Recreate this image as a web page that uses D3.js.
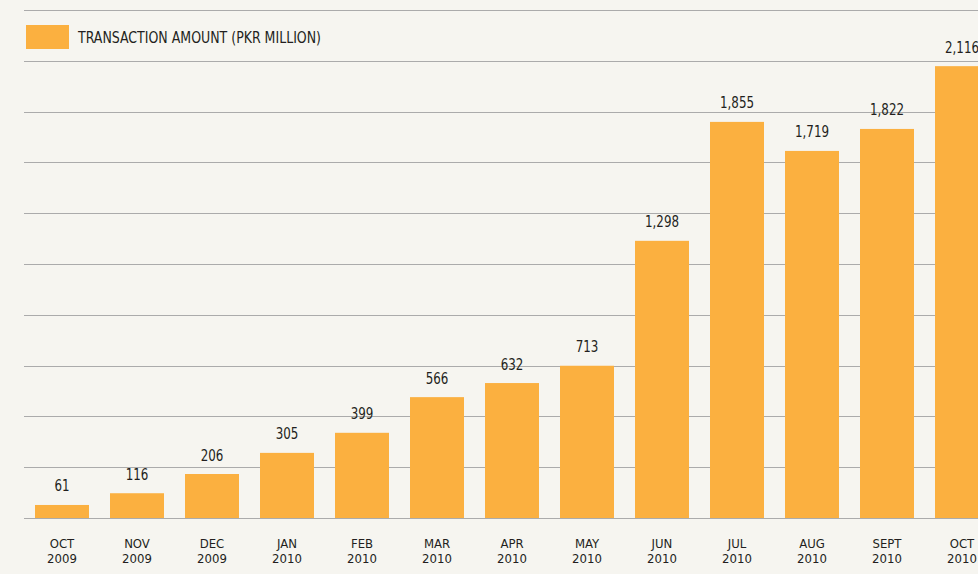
<!DOCTYPE html>
<html>
<head>
<meta charset="utf-8">
<script src="https://cdn.jsdelivr.net/npm/d3@7"></script>
<style>
  html, body { margin: 0; padding: 0; background: #f6f5f0; overflow: hidden; }
  svg { display: block; font-family: "Liberation Sans Narrow", "DejaVu Sans Condensed", "Roboto", sans-serif; }
  .grid line { stroke: #ababab; stroke-width: 1.2; }
  .value { font-size: 15px; fill: #231f20; text-anchor: middle; }
  .month { font-size: 13px; fill: #231f20; text-anchor: middle; }
  .legend { font-size: 15.5px; fill: #231f20; }
</style>
</head>
<body>
<div id="chart"></div>
<script>
(function () {
  const months = ["OCT", "NOV", "DEC", "JAN", "FEB", "MAR", "APR", "MAY", "JUN", "JUL", "AUG", "SEPT", "OCT"];
  const years = ["2009", "2009", "2009", "2010", "2010", "2010", "2010", "2010", "2010", "2010", "2010", "2010", "2010"];
  const amounts = [61, 116, 206, 305, 399, 566, 632, 713, 1298, 1855, 1719, 1822, 2116];
  const seriesName = "TRANSACTION AMOUNT (PKR MILLION)";

  const width = 978;
  const height = 574;
  const baseline = 518;
  const top = 10;
  const gridCount = 10;

  const svg = d3.select("#chart").append("svg")
    .attr("width", width)
    .attr("height", height);

  const keys = months.map(function (m, i) { return i; });

  const x = d3.scaleBand()
    .domain(keys)
    .range([24.5, 999.5])
    .paddingInner(0.28)
    .paddingOuter(0.14);

  const y = d3.scaleLinear()
    .domain([0, 2379])
    .range([baseline, top]);

  // decorative gridlines, evenly spaced over the plot
  const gridY = d3.scaleLinear()
    .domain([0, gridCount])
    .range([baseline, top]);

  svg.append("g")
    .attr("class", "grid")
    .selectAll("line")
    .data(d3.range(0, gridCount + 1))
    .join("line")
    .attr("x1", 24)
    .attr("x2", width)
    .attr("y1", function (d) { return Math.round(gridY(d)) + 0.5; })
    .attr("y2", function (d) { return Math.round(gridY(d)) + 0.5; });

  svg.append("g")
    .selectAll("rect")
    .data(amounts)
    .join("rect")
    .attr("x", function (d, i) { return x(i); })
    .attr("width", x.bandwidth())
    .attr("y", function (d) { return y(d); })
    .attr("height", function (d) { return baseline - y(d); })
    .attr("fill", "#fbb040");

  // value labels, squeezed a little to mimic the condensed face
  svg.append("g")
    .selectAll("text")
    .data(amounts)
    .join("text")
    .attr("class", "value")
    .attr("x", function (d, i) { return x(i) + x.bandwidth() / 2; })
    .attr("y", function (d) { return y(d) - 13.5; })
    .text(d3.format(","))
    .each(function () {
      const len = this.getComputedTextLength();
      this.setAttribute("textLength", len * 0.88);
      this.setAttribute("lengthAdjust", "spacingAndGlyphs");
    });

  const labels = svg.append("g")
    .selectAll("text")
    .data(keys)
    .join("text")
    .attr("class", "month")
    .attr("x", function (i) { return x(i) + x.bandwidth() / 2; })
    .attr("y", 548);
  labels.append("tspan")
    .attr("x", function (i) { return x(i) + x.bandwidth() / 2; })
    .text(function (i) { return months[i]; });
  labels.append("tspan")
    .attr("x", function (i) { return x(i) + x.bandwidth() / 2; })
    .attr("dy", 15)
    .text(function (i) { return years[i]; });

  // legend
  svg.append("rect")
    .attr("x", 26)
    .attr("y", 25)
    .attr("width", 43)
    .attr("height", 24)
    .attr("fill", "#fbb040");
  svg.append("text")
    .attr("class", "legend")
    .attr("x", 78)
    .attr("y", 43)
    .attr("textLength", 243)
    .attr("lengthAdjust", "spacingAndGlyphs")
    .text(seriesName);
})();
</script>
</body>
</html>
